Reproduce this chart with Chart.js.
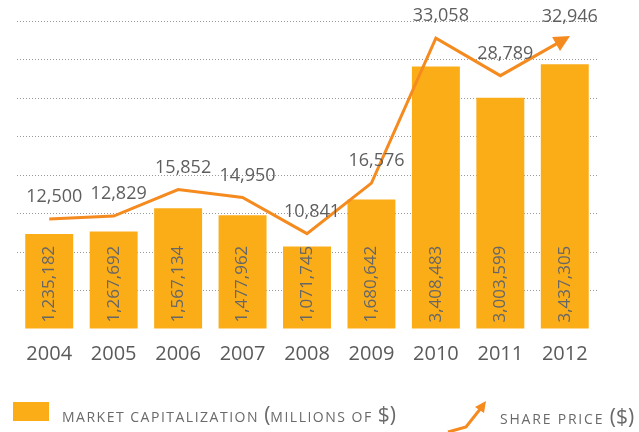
<!DOCTYPE html>
<html>
<head>
<meta charset="utf-8">
<script src="https://cdn.jsdelivr.net/npm/chart.js@4"></script>
<style>
  body { margin: 0; background: #fff; font-family: "Open Sans", sans-serif; }
  #wrap { position: relative; width: 639px; height: 432px; overflow: hidden; }
  #chart-box { position: absolute; left: 0; top: 0; width: 639px; height: 432px; }
  .legend-item { position: absolute; color: #6a6a6a; font-size: 14px; letter-spacing: 1.5px; white-space: nowrap; }
  .legend-item .big { font-size: 21px; letter-spacing: 0; }
  #swatch { position: absolute; left: 13px; top: 402px; width: 36px; height: 19px; background: #FBAD18; }
</style>
</head>
<body>
<div id="wrap">
  <div id="chart-box"><canvas id="chart"></canvas></div>
  <div id="swatch"></div>
  <div class="legend-item" id="leg-cap" style="left:62px; top:400px;">MARKET CAPITALIZATION <span class="big">(</span>MILLIONS OF <span class="big">$)</span></div>
  <svg style="position:absolute; left:444px; top:398px;" width="46" height="36">
    <polyline points="4,34 22,29 37,10" fill="none" stroke="#F58A1F" stroke-width="3"/>
    <polygon points="42,3 31,9 40,15" fill="#F58A1F"/>
  </svg>
  <div class="legend-item" id="leg-price" style="left:500px; top:402px; letter-spacing:1.8px;">SHARE PRICE <span class="big">($)</span></div>
</div>
<script>
const years = ["2004", "2005", "2006", "2007", "2008", "2009", "2010", "2011", "2012"];
const marketCap = [1235182, 1267692, 1567134, 1477962, 1071745, 1680642, 3408483, 3003599, 3437305];
const sharePrice = [12500, 12829, 15852, 14950, 10841, 16576, 33058, 28789, 32946];

const barColor = "#FBAD18";
const lineColor = "#F58A1F";
const textGray = "#666666";

Chart.defaults.font.family = '"Open Sans", sans-serif';

// labels written inside the bars and above the line, plus the arrow head
const labelsPlugin = {
  id: "labels",
  afterDatasetsDraw(chart) {
    const ctx = chart.ctx;
    const barMeta = chart.getDatasetMeta(1);
    const lineMeta = chart.getDatasetMeta(0);

    ctx.save();
    ctx.fillStyle = textGray;
    ctx.font = '17px "Open Sans"';
    ctx.textBaseline = "middle";
    ctx.textAlign = "left";
    barMeta.data.forEach((bar, i) => {
      ctx.save();
      ctx.translate(bar.x, bar.base - 6);
      ctx.rotate(-Math.PI / 2);
      ctx.fillText(marketCap[i].toLocaleString("en-US"), 0, 0);
      ctx.restore();
    });

    // arrow head at the end of the line
    const pts = lineMeta.data;
    const a = pts[pts.length - 2], b = pts[pts.length - 1];
    const ang = Math.atan2(b.y - a.y, b.x - a.x);
    ctx.save();
    ctx.translate(b.x, b.y);
    ctx.rotate(ang);
    ctx.fillStyle = lineColor;
    ctx.beginPath();
    ctx.moveTo(6, 0);
    ctx.lineTo(-10, -8);
    ctx.lineTo(-10, 8);
    ctx.closePath();
    ctx.fill();
    ctx.restore();

    ctx.font = '18px "Open Sans"';
    ctx.textAlign = "center";
    ctx.fillStyle = "#5e5e5e";
    pts.forEach((p, i) => {
      ctx.fillText(sharePrice[i].toLocaleString("en-US"), p.x + 5, p.y - 22);
    });
    ctx.restore();
  }
};

new Chart(document.getElementById("chart"), {
  data: {
    labels: years,
    datasets: [
      {
        type: "line",
        label: "Share price ($)",
        data: sharePrice,
        yAxisID: "y2",
        borderColor: lineColor,
        borderWidth: 3,
        pointRadius: 0,
        tension: 0,
        fill: false,
        order: 0
      },
      {
        type: "bar",
        label: "Market capitalization (millions of $)",
        data: marketCap,
        yAxisID: "y",
        backgroundColor: barColor,
        categoryPercentage: 1,
        barPercentage: 0.744,
        order: 1
      }
    ]
  },
  options: {
    responsive: true,
    maintainAspectRatio: false,
    animation: false,
    layout: { padding: { left: 17, right: 42, top: 21, bottom: 61 } },
    plugins: {
      legend: { display: false },
      tooltip: { enabled: false }
    },
    scales: {
      x: {
        grid: { display: false },
        border: { display: false },
        ticks: { color: "#5a5a5a", font: { size: 20 }, padding: 5 }
      },
      y: {
        min: 0,
        max: 4000000,
        ticks: { display: false, stepSize: 500000 },
        border: { display: false, dash: [1, 2] },
        grid: {
          drawTicks: false,
          color: c => c.tick.value === 0 ? "rgba(0,0,0,0)" : "#9a9a9a",
          lineWidth: 1
        }
      },
      y2: {
        display: false,
        min: 0,
        max: 35000
      }
    }
  },
  plugins: [labelsPlugin]
});
</script>
</body>
</html>
